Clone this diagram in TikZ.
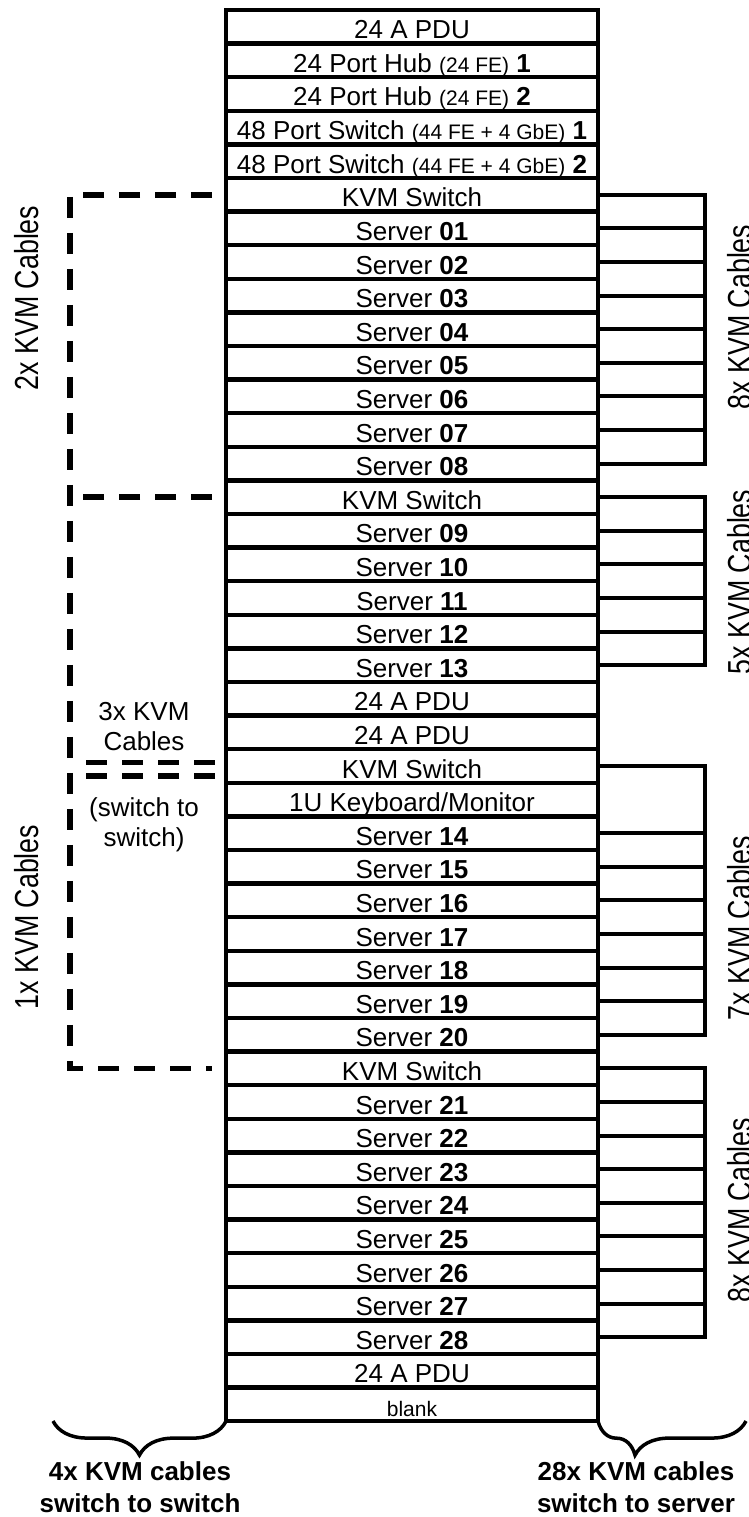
\documentclass[tikz,border=0pt]{standalone}
\usepackage{fontspec}
\setmainfont{Liberation Sans}
\usetikzlibrary{decorations.pathreplacing}

\newcommand{\rackfont}{\fontsize{26}{30}\selectfont}
\newcommand{\sumfont}{\fontsize{26}{32}\selectfont}
\newcommand{\smalltxt}[1]{{\fontsize{21}{25}\selectfont #1}}
\newcommand{\tallbox}[1]{\scalebox{1.03}[1.28]{#1}}

\begin{document}
\begin{tikzpicture}[x=1pt, y=1pt,
    rackrow/.style={draw, line width=4.5pt, minimum width=372pt, minimum height=33.6pt, inner sep=0pt, outer sep=0pt, text height=24pt, text depth=0pt, font=\rackfont},
    kvmcable/.style={line width=4pt},
    swcable/.style={line width=5.5pt, dash pattern=on 21pt off 15pt},
    sidelabel/.style={rotate=90, inner sep=0pt, font=\rackfont},
    kvmbrace/.style={decorate, decoration={brace, amplitude=34pt, aspect=#1}, line width=3.5pt},
    kvmbrace/.default=0.5]
    \useasboundingbox (0,0) rectangle (748,-1517);

    \begin{scope}[every node/.style={rackrow}]
        \node (pduA) at (412,-26.8) {24 A PDU};
        \node (hubA) at (412,-60.4) {24 Port Hub \smalltxt{(24 FE)} \textbf{1}};
        \node (hubB) at (412,-94) {24 Port Hub \smalltxt{(24 FE)} \textbf{2}};
        \node (swA) at (412,-127.6) {48 Port Switch \smalltxt{(44 FE + 4 GbE)} \textbf{1}};
        \node (swB) at (412,-161.2) {48 Port Switch \smalltxt{(44 FE + 4 GbE)} \textbf{2}};
        \node (kvmA) at (412,-194.8) {KVM Switch};
        \node (s01) at (412,-228.4) {Server \textbf{01}};
        \node (s02) at (412,-262) {Server \textbf{02}};
        \node (s03) at (412,-295.6) {Server \textbf{03}};
        \node (s04) at (412,-329.2) {Server \textbf{04}};
        \node (s05) at (412,-362.8) {Server \textbf{05}};
        \node (s06) at (412,-396.4) {Server \textbf{06}};
        \node (s07) at (412,-430) {Server \textbf{07}};
        \node (s08) at (412,-463.6) {Server \textbf{08}};
        \node (kvmB) at (412,-497.2) {KVM Switch};
        \node (s09) at (412,-530.8) {Server \textbf{09}};
        \node (s10) at (412,-564.4) {Server \textbf{10}};
        \node (s11) at (412,-598) {Server \textbf{11}};
        \node (s12) at (412,-631.6) {Server \textbf{12}};
        \node (s13) at (412,-665.2) {Server \textbf{13}};
        \node (pduB) at (412,-698.8) {24 A PDU};
        \node (pduC) at (412,-732.4) {24 A PDU};
        \node (kvmC) at (412,-766) {KVM Switch};
        \node (kbd) at (412,-799.6) {1U Keyboard/Monitor};
        \node (s14) at (412,-833.2) {Server \textbf{14}};
        \node (s15) at (412,-866.8) {Server \textbf{15}};
        \node (s16) at (412,-900.4) {Server \textbf{16}};
        \node (s17) at (412,-934) {Server \textbf{17}};
        \node (s18) at (412,-967.6) {Server \textbf{18}};
        \node (s19) at (412,-1001.2) {Server \textbf{19}};
        \node (s20) at (412,-1034.8) {Server \textbf{20}};
        \node (kvmD) at (412,-1068.4) {KVM Switch};
        \node (s21) at (412,-1102) {Server \textbf{21}};
        \node (s22) at (412,-1135.6) {Server \textbf{22}};
        \node (s23) at (412,-1169.2) {Server \textbf{23}};
        \node (s24) at (412,-1202.8) {Server \textbf{24}};
        \node (s25) at (412,-1236.4) {Server \textbf{25}};
        \node (s26) at (412,-1270) {Server \textbf{26}};
        \node (s27) at (412,-1303.6) {Server \textbf{27}};
        \node (s28) at (412,-1337.2) {Server \textbf{28}};
        \node (pduD) at (412,-1370.8) {24 A PDU};
        \node (blank) at (412,-1404.4) {\smalltxt{blank}};
    \end{scope}

    % switch to server cables
    \coordinate (rbus) at (705,0);
    \draw[kvmcable] (kvmA.east) -- (kvmA.east -| rbus) -- (s08.east -| rbus) -- (s08.east);
    \foreach \n in {s01,s02,s03,s04,s05,s06,s07}
        \draw[kvmcable] (\n.east) -- (\n.east -| rbus);
    \draw[kvmcable] (kvmB.east) -- (kvmB.east -| rbus) -- (s13.east -| rbus) -- (s13.east);
    \foreach \n in {s09,s10,s11,s12}
        \draw[kvmcable] (\n.east) -- (\n.east -| rbus);
    \draw[kvmcable] (kvmC.east) -- (kvmC.east -| rbus) -- (s20.east -| rbus) -- (s20.east);
    \foreach \n in {s14,s15,s16,s17,s18,s19}
        \draw[kvmcable] (\n.east) -- (\n.east -| rbus);
    \draw[kvmcable] (kvmD.east) -- (kvmD.east -| rbus) -- (s28.east -| rbus) -- (s28.east);
    \foreach \n in {s21,s22,s23,s24,s25,s26,s27}
        \draw[kvmcable] (\n.east) -- (\n.east -| rbus);

    % switch to switch cables
    \coordinate (lbus) at (70,0);
    \draw[swcable] ([xshift=-14pt]kvmA.west) -- (kvmA.west -| lbus) -- (kvmD.west -| lbus) -- ([xshift=-14pt]kvmD.west);
    \draw[swcable] ([xshift=-14pt]kvmB.west) -- (kvmB.west -| lbus);
    \draw[swcable, double, double distance=8pt] ([xshift=-11pt, yshift=-3pt]kvmC.west) -- ([xshift=-141pt, yshift=-3pt]kvmC.west);

    \node[sidelabel] (capA) at (27,-298) {\tallbox{2x KVM Cables}};
    \node[sidelabel] (capB) at (27,-917) {\tallbox{1x KVM Cables}};
    \node[font=\rackfont, align=center, inner sep=0pt] (swsw) at (144,-727) {3x KVM\\Cables};
    \node[font=\rackfont, align=center, inner sep=0pt] (swnote) at (144,-825) {(switch to\\switch)};

    \node[sidelabel] (capC) at (740,-317) {\tallbox{8x KVM Cables}};
    \node[sidelabel] (capD) at (740,-582) {\tallbox{5x KVM Cables}};
    \node[sidelabel] (capE) at (740,-928) {\tallbox{7x KVM Cables}};
    \node[sidelabel] (capF) at (740,-1210) {\tallbox{8x KVM Cables}};

    % totals
    \coordinate (lbr) at (53,-1421);
    \coordinate (rbr) at (746,-1421);
    \draw[kvmbrace] (blank.south west) -- (lbr);
    \draw[kvmbrace=0.75] (rbr) -- (blank.south east);
    \node[font=\bfseries\sumfont, align=center, anchor=north, inner sep=0pt] (sumA) at (140,-1461) {4x KVM cables\\switch to switch};
    \node[font=\bfseries\sumfont, align=center, anchor=north, inner sep=0pt] (sumB) at (636,-1461) {28x KVM cables\\switch to server};
\end{tikzpicture}
\end{document}
